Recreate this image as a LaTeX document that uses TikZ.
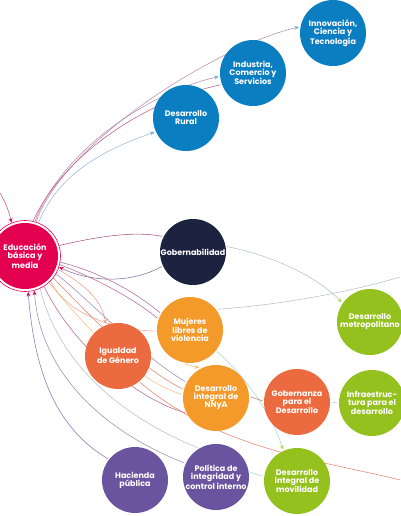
\documentclass[tikz,border=0pt]{standalone}
\usepackage{fontspec}
\setmainfont{Poppins}
\usetikzlibrary{arrows.meta,backgrounds}
\definecolor{cblue}{HTML}{0B7DC1}
\definecolor{cpink}{HTML}{E2004F}
\definecolor{cnavy}{HTML}{1B2340}
\definecolor{cgreen}{HTML}{95C11F}
\definecolor{corange}{HTML}{F39A2B}
\definecolor{cred}{HTML}{EC6A3F}
\definecolor{cpurple}{HTML}{6A549F}
\definecolor{lpink}{HTML}{C25A82}
\definecolor{lplum}{HTML}{A8587E}
\definecolor{lmauve}{HTML}{B06A8C}
\definecolor{lblue}{HTML}{9DB6DA}
\definecolor{lbluepink}{HTML}{B48CAE}
\definecolor{tipblue}{HTML}{6FAEDF}
\definecolor{lgray}{HTML}{B8BEC4}
\definecolor{lnavy}{HTML}{7F6E9A}
\definecolor{lteal}{HTML}{A6D8CF}
\definecolor{tipgreen}{HTML}{B5D66A}
\definecolor{lsalmon}{HTML}{F2A088}
\definecolor{lorange}{HTML}{F6BE85}
\definecolor{lred}{HTML}{E9846E}
\definecolor{lpurple}{HTML}{8B70B3}
\definecolor{lgraypurple}{HTML}{9A8CB0}
\definecolor{lbrown}{HTML}{B08470}
\begin{document}
\begin{tikzpicture}[x=1pt,y=-1pt,
  bubble/.style={circle,minimum size=66pt,inner sep=0pt,outer sep=1.5pt,text=white,align=center,
    font=\bfseries\fontsize{8}{8}\selectfont},
  conn/.style={line width=0.55pt},
  arr/.style={-{Stealth[length=4.5pt,width=4pt]}},
  arrc/.style={-{Stealth[length=4.5pt,width=4pt,color=#1]}}]
\useasboundingbox (0,0) rectangle (400,516);
\node[bubble,fill=cblue] (innov) at (333,33) {Innovación,\\Ciencia y\\Tecnología};
\node[bubble,fill=cblue] (indus) at (253,73) {Industria,\\Comercio y\\Servicios};
\node[bubble,fill=cblue] (rural) at (186,118) {Desarrollo\\Rural};
\node[bubble,fill=cpink,outer sep=3pt] (edu) at (25,256) {Educación\\básica y\\media};
\draw[cpink,line width=0.6pt] (edu.center) circle[radius=35.5pt];
\node[bubble,fill=cnavy] (gob) at (193,252) {Gobernabilidad};
\node[bubble,fill=cgreen] (metro) at (370,322) {Desarrollo\\metropolitano};
\node[bubble,fill=corange] (muj) at (190,330) {Mujeres\\libres de\\violencia};
\node[bubble,fill=cred] (igu) at (118,356) {Igualdad\\de Género};
\node[bubble,fill=corange] (nnya) at (216,398) {Desarrollo\\integral de\\NNyA};
\node[bubble,fill=cred] (gobz) at (297,402) {Gobernanza\\para el\\Desarrollo};
\node[bubble,fill=cgreen] (infra) at (372,403) {Infraestruc-\\tura para el\\desarrollo};
\node[bubble,fill=cpurple] (hac) at (135,480) {Hacienda\\pública};
\node[bubble,fill=cpurple] (pol) at (216,477) {Política de\\integridad y\\control interno};
\node[bubble,fill=cgreen] (mov) at (297,481) {Desarrollo\\integral de\\movilidad};
\coordinate (tl) at (0,193);
\coordinate (rt1) at (400,277);
\coordinate (rt2) at (400,480);
\begin{pgfonlayer}{background}
% top group
\draw[conn,lpink,arrc=cpink] (tl) .. controls (6,203) and (9,212) .. (edu.112);
\draw[conn,lblue,arrc=tipblue] (edu.68) .. controls (60,170) and (110,148) .. (rural.204);
\draw[conn,lbluepink,arrc=tipblue] (edu.74) .. controls (62,150) and (150,92) .. (indus.186);
\draw[conn,lbluepink,arrc=tipblue] (edu.72) .. controls (65,140) and (220,45) .. (innov.170);
\draw[conn,lpink] (edu.77) .. controls (62,158) and (140,102) .. (indus.200);
% right group
\draw[conn,lplum] (edu.17) .. controls (100,236) and (135,231) .. (gob.153);
\draw[conn,lgray,arrc=tipgreen] (gob.9) .. controls (270,255) and (315,275) .. (metro.145);
\draw[conn,lnavy,arrc=cpink] (gob.205) .. controls (130,284) and (90,282) .. (edu.-18);
\draw[conn,lmauve] (edu.-10) .. controls (100,272) and (135,292) .. (muj.150);
\draw[conn,lmauve] (edu.-14) .. controls (100,280) and (135,300) .. (muj.160);
\draw[conn,lgray] (muj.37) .. controls (280,305) and (350,292) .. (rt1);
\draw[conn,lsalmon,arrc=lsalmon] (edu.-22) .. controls (85,285) and (102,300) .. (igu.111);
\draw[conn,lsalmon] (edu.-45) .. controls (70,318) and (120,330) .. (muj.182);
\draw[conn,lteal,arrc=tipgreen] (muj.-39) .. controls (245,375) and (272,415) .. (mov.114);
\draw[conn,lorange,arrc=lorange] (muj.262) -- (nnya.119);
\draw[conn,lgraypurple] (edu.-30) .. controls (90,300) and (140,355) .. (nnya.152);
\draw[conn,lred] (edu.-38) .. controls (85,310) and (135,365) .. (nnya.165);
\draw[conn,lorange] (edu.-48) .. controls (80,320) and (130,378) .. (nnya.174);
\draw[conn,lmauve] (edu.-58) .. controls (75,350) and (140,400) .. (nnya.205);
\draw[conn,lbrown] (nnya.2) -- (gobz.178);
\draw[conn,lteal] (gobz.0) -- (infra.180);
\draw[conn,lteal] (pol.8) -- (mov.172);
\draw[conn,lred] (igu.-50) .. controls (220,450) and (320,460) .. (rt2);
% bottom group
\draw[conn,lpurple,arrc=cpink] (hac.142) .. controls (60,430) and (35,380) .. (edu.-85);
\draw[conn,lgraypurple,arrc=cpink] (pol.156) .. controls (100,430) and (40,370) .. (edu.-75);
\draw[conn,lgray] (edu.-65) .. controls (60,370) and (130,420) .. (pol.122);
\end{pgfonlayer}
\end{tikzpicture}
\end{document}
